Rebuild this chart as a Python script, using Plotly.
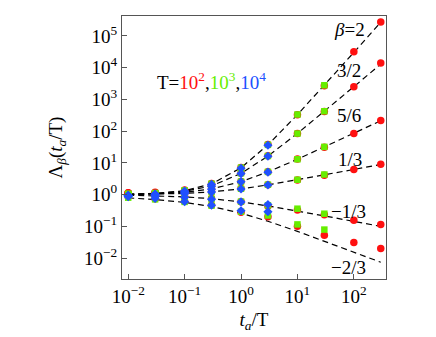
import plotly.graph_objects as go

# x = t_a / T
x_all = [0.01, 0.03, 0.1, 0.3, 1, 3, 10, 30, 100, 300]
x_red = x_all            # T = 10^2
x_green = x_all[:8]      # T = 10^3
x_blue = x_all[:6]       # T = 10^4

x_tickvals = [0.01, 0.1, 1, 10, 100]
x_ticktext = ["10<sup>\u22122</sup>", "10<sup>\u22121</sup>", "10<sup>0</sup>",
              "10<sup>1</sup>", "10<sup>2</sup>"]
y_tickvals = [0.01, 0.1, 1, 10, 100, 1000, 10000, 100000]
y_ticktext = ["10<sup>\u22122</sup>", "10<sup>\u22121</sup>", "10<sup>0</sup>",
              "10<sup>1</sup>", "10<sup>2</sup>", "10<sup>3</sup>",
              "10<sup>4</sup>", "10<sup>5</sup>"]

beta_labels = ["<i>\u03b2</i>=2", "3/2", "5/6", "1/3", "\u22121/3", "\u22122/3"]

# dashed reference curves
line_vals = [
    [1.03, 1.09, 1.33, 2.17, 7.0, 37, 331, 2790, 30300, 271000],
    [1.025, 1.077, 1.27, 1.88, 4.66, 16.4, 85, 421, 2520, 13000],
    [1.018, 1.054, 1.18, 1.51, 2.56, 5.2, 13.0, 31.6, 85.4, 213],
    [1.011, 1.031, 1.09, 1.22, 1.52, 2.02, 2.92, 4.17, 6.2, 8.93],
    [0.96, 0.923, 0.85, 0.743, 0.587, 0.44, 0.305, 0.213, 0.143, 0.0996],
    [0.788, 0.699, 0.568, 0.422, 0.26, 0.145, 0.0696, 0.034, 0.0155, 0.0074],
]

red_vals = [
    [1.15, 1.18, 1.4, 2.25, 7.2, 38, 330, 2700, 31600, 275000],
    [1.12, 1.14, 1.32, 1.95, 4.8, 16.8, 85, 420, 2500, 14000],
    [1.1, 1.1, 1.22, 1.55, 2.6, 5.3, 13.2, 31, 85, 215],
    [1.08, 1.06, 1.12, 1.25, 1.55, 2.05, 2.9, 4.1, 6.2, 9.0],
    [1.0, 0.95, 0.88, 0.76, 0.6, 0.44, 0.33, 0.23, 0.155, 0.115],
    [0.85, 0.74, 0.62, 0.46, 0.28, 0.2, 0.1, 0.052, 0.031, 0.02],
]
green_vals = [
    [1.06, 1.12, 1.36, 2.2, 7.1, 37, 335, 2800],
    [1.04, 1.09, 1.29, 1.9, 4.7, 16.5, 84, 425],
    [1.03, 1.06, 1.19, 1.52, 2.58, 5.2, 13.0, 32],
    [1.01, 1.03, 1.1, 1.23, 1.53, 2.05, 2.95, 4.3],
    [0.95, 0.92, 0.85, 0.74, 0.6, 0.46, 0.36, 0.25],
    [0.8, 0.71, 0.59, 0.45, 0.29, 0.22, 0.115, 0.079],
]
blue_vals = [
    [0.95, 1.05, 1.3, 2.1, 6.8, 36],
    [0.93, 1.02, 1.24, 1.84, 4.6, 16.2],
    [0.92, 1.0, 1.15, 1.48, 2.55, 5.1],
    [0.91, 0.98, 1.07, 1.2, 1.5, 2.0],
    [0.9, 0.88, 0.82, 0.72, 0.59, 0.49],
    [0.86, 0.76, 0.6, 0.46, 0.31, 0.29],
]

label_x = [1.92, 1.92, 1.92, 1.93, 1.9, 1.9]          # log10 positions
label_y = [5.19, 3.9, 2.48, 1.1, -0.54, -2.3]

RED, GREEN, BLUE = "#ff1010", "#66ee00", "#2050ff"
serif = "Liberation Serif"

fig = go.Figure()

for vals in line_vals:
    fig.add_trace(go.Scatter(x=x_all, y=vals, mode="lines",
                             line=dict(color="black", width=1.2, dash="6px,4px")))

for vals in red_vals:
    fig.add_trace(go.Scatter(x=x_red, y=vals, mode="markers",
                             marker=dict(symbol="circle", size=7.5, color=RED)))
for vals in green_vals:
    fig.add_trace(go.Scatter(x=x_green, y=vals, mode="markers",
                             marker=dict(symbol="square", size=6.5, color=GREEN)))
for vals in blue_vals:
    fig.add_trace(go.Scatter(x=x_blue, y=vals, mode="markers",
                             marker=dict(symbol="diamond", size=7, color=BLUE)))

for lab, lx, ly in zip(beta_labels, label_x, label_y):
    fig.add_annotation(x=lx, y=ly, xref="x", yref="y", text=lab, showarrow=False,
                       font=dict(family=serif, size=19, color="black"))

fig.add_annotation(xref="paper", yref="paper", x=0.34, y=0.805, showarrow=False,
                   text=("T=<span style='color:%s'>10<sup>2</sup></span>,"
                         "<span style='color:%s'>10<sup>3</sup></span>,"
                         "<span style='color:%s'>10<sup>4</sup></span>") % (RED, GREEN, BLUE),
                   font=dict(family=serif, size=19, color="black"))

axis_common = dict(type="log", showgrid=False,
                   zeroline=False, showline=True, linecolor="#555555", linewidth=1,
                   mirror=True, ticks="inside", ticklen=5, tickcolor="#555555",
                   tickfont=dict(family=serif, size=19, color="black"))

fig.update_xaxes(range=[-2.11, 2.57], tickvals=x_tickvals, ticktext=x_ticktext,
                 title=dict(text="<i>t</i><sub><i>a</i></sub>/T",
                            font=dict(family=serif, size=19, color="black"),
                            standoff=6),
                 **axis_common)
fig.update_yaxes(range=[-2.66, 5.63], tickvals=y_tickvals, ticktext=y_ticktext,
                 title=dict(text="\u039b<sub><i>\u03b2</i></sub>(<i>t</i><sub><i>a</i></sub>/T)",
                            font=dict(family=serif, size=19, color="black"),
                            standoff=16),
                 **axis_common)

fig.update_layout(width=436, height=337, showlegend=False,
                  margin=dict(l=114, r=58, t=8, b=66),
                  font=dict(family=serif),
                  paper_bgcolor="white", plot_bgcolor="white")

fig.write_html("out.html")
